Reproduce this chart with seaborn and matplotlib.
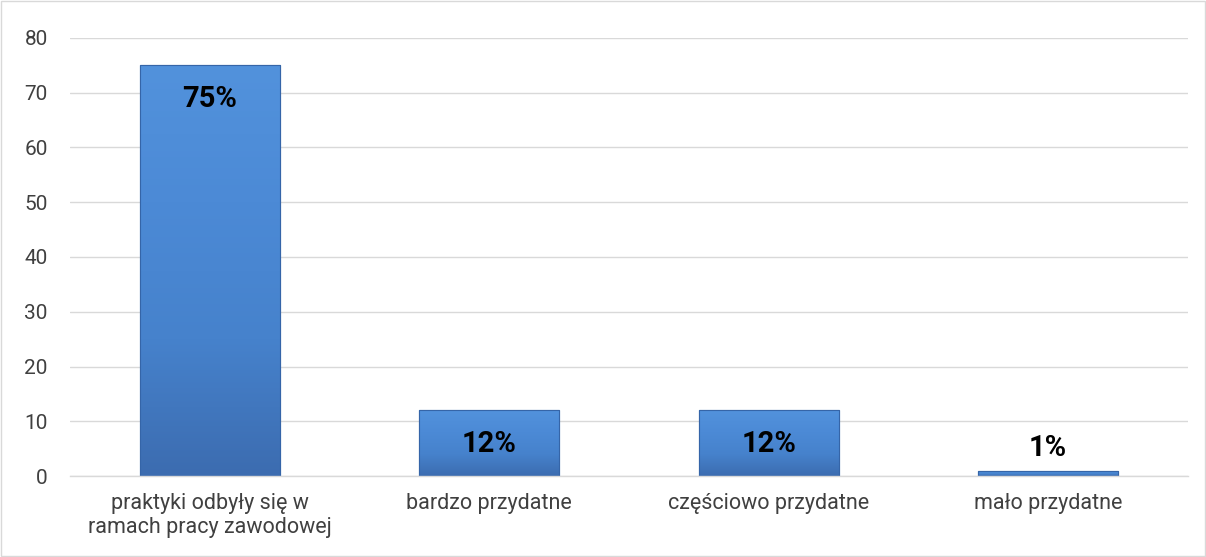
import numpy as np
import pandas as pd
import seaborn as sns
import matplotlib.pyplot as plt
from matplotlib.patches import Rectangle
from matplotlib.colors import LinearSegmentedColormap

# dane
kategorie = ["praktyki odbyły się w\nramach pracy zawodowej", "bardzo przydatne",
             "częściowo przydatne", "mało przydatne"]
wartosci = [75, 12, 12, 1]
etykiety = ["75%", "12%", "12%", "1%"]
y_ticks = [0, 10, 20, 30, 40, 50, 60, 70, 80]

sns.set_theme(style="white")
plt.rcParams["font.family"] = ["Roboto", "DejaVu Sans"]

df = pd.DataFrame({"kategoria": kategorie, "wartosc": wartosci})

fig = plt.figure(figsize=(12.06, 5.57), dpi=100)
ax = fig.add_axes([0.058, 0.1454, 0.927, 0.7864])

sns.barplot(data=df, x="kategoria", y="wartosc", color="#4A86D0", width=0.5,
            edgecolor="#3565A8", linewidth=0.8, ax=ax)

# gradient na słupkach (efekt jak w Excelu)
cmap = LinearSegmentedColormap.from_list("g", ["#3C6CB0", "#4682CC", "#4C8AD6", "#5292DC"])
grad = np.linspace(0, 1, 256).reshape(-1, 1)
for p in ax.patches:
    x0, y0 = p.get_x(), p.get_y()
    w, h = p.get_width(), p.get_height()
    im = ax.imshow(grad, cmap=cmap, aspect="auto", origin="lower",
                   extent=[x0, x0 + w, y0, y0 + h], zorder=p.get_zorder() + 0.1)
    im.set_clip_path(p)
    ax.add_patch(Rectangle((x0, y0), w, h, fill=False, edgecolor="#3565A8",
                           linewidth=0.8, zorder=p.get_zorder() + 0.2))

ax.set_xlim(-0.5, 3.5)
ax.set_ylim(0, 80)
ax.set_yticks(y_ticks)
ax.grid(axis="y", color="#D9D9D9", linewidth=1)
ax.set_axisbelow(True)
for s in ["left", "right", "top"]:
    ax.spines[s].set_visible(False)
ax.spines["bottom"].set_color("#D9D9D9")
ax.spines["bottom"].set_linewidth(1)
ax.tick_params(axis="both", length=0, colors="#595959", labelcolor="#404040")
ax.tick_params(axis="x", pad=12, labelsize=15.5)
ax.tick_params(axis="y", pad=16, labelsize=15)
ax.set_xlabel("")
ax.set_ylabel("")

# etykiety danych
for p, lab in zip(ax.patches[:4], etykiety):
    cx = p.get_x() + p.get_width() / 2
    top = p.get_height()
    if top > 5:
        ax.annotate(lab, (cx, top), xytext=(0, -14), textcoords="offset points",
                    ha="center", va="top", fontsize=21, fontweight="bold",
                    color="black", zorder=10)
    else:
        ax.annotate(lab, (cx, top), xytext=(0, 6), textcoords="offset points",
                    ha="center", va="bottom", fontsize=21, fontweight="bold",
                    color="black", zorder=10)

# ramka wykresu
fig.patches.append(Rectangle((0.001, 0.001), 0.998, 0.997, transform=fig.transFigure,
                             fill=False, edgecolor="#D9D9D9", linewidth=1))

fig.savefig("out.png", dpi=100)
